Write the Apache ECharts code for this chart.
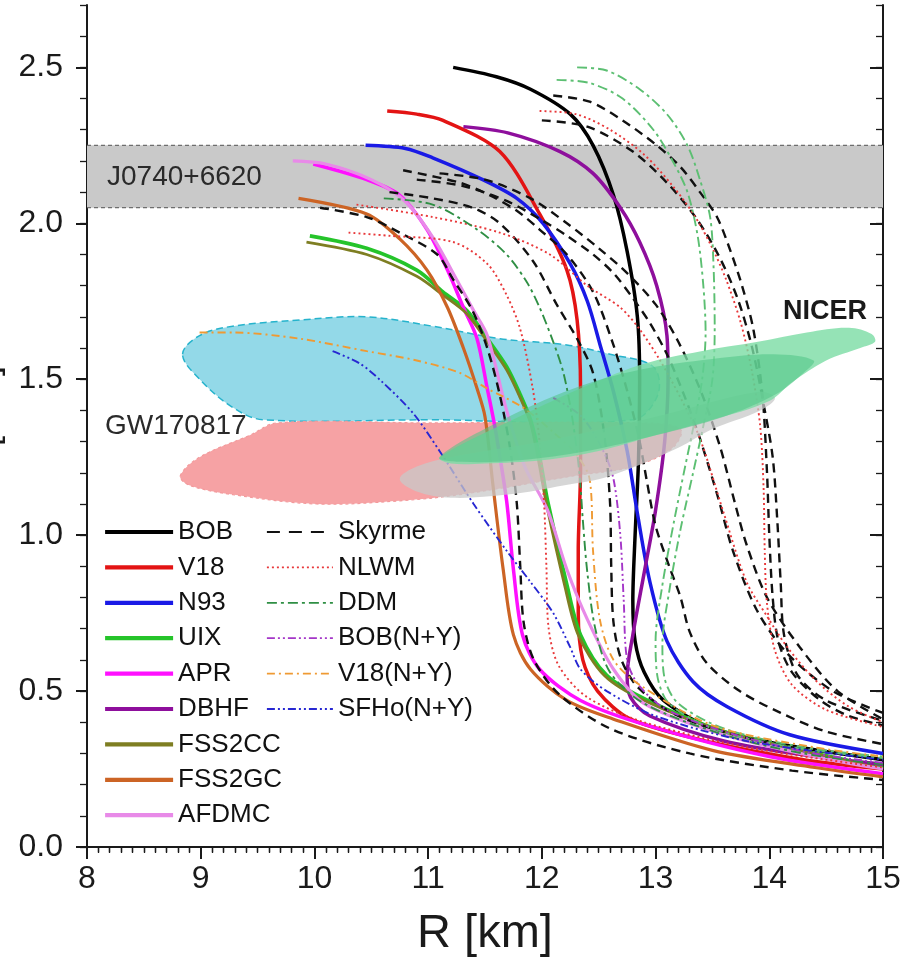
<!DOCTYPE html>
<html>
<head>
<meta charset="utf-8">
<title>Neutron star mass-radius relations</title>
<script src="https://cdn.jsdelivr.net/npm/echarts@6/dist/echarts.min.js"></script>
<style>
html,body{margin:0;padding:0;background:#fff;}
#chart{width:909px;height:965px;}
</style>
</head>
<body>
<div id="chart"></div>
<script>
// ---- axis ticks ----
const radiusTicks = [8, 9, 10, 11, 12, 13, 14, 15];
const massTicks = [0, 0.5, 1.0, 1.5, 2.0, 2.5];

// ---- observational constraints [R (km), M (Msun)] ----
const j0740Band = [2.05, 2.25];
const gwUpper = [[8.84,1.58],[8.99,1.64],[9.28,1.67],[9.87,1.69],[10.46,1.70],[11.04,1.67],[11.63,1.63],[12.22,1.61],[12.6,1.58],[12.98,1.54],[13.02,1.45],[12.8,1.37],[11.0,1.37],[9.55,1.37],[9.28,1.41],[8.99,1.50]];
const gwLower = [[8.82,1.19],[8.99,1.25],[9.43,1.32],[9.67,1.36],[11.0,1.36],[12.9,1.36],[13.22,1.34],[13.15,1.28],[12.8,1.22],[12.28,1.19],[11.28,1.13],[10.75,1.11],[10.02,1.10],[9.28,1.13],[8.9,1.16]];
const nicerGray = [[10.75,1.18],[10.9,1.14],[11.2,1.12],[11.7,1.13],[12.2,1.16],[12.6,1.19],[13.2,1.28],[13.5,1.34],[13.92,1.40],[14.05,1.44],[13.9,1.46],[13.0,1.38],[12.0,1.30],[11.2,1.25],[10.9,1.22]];
const nicerOuter = [[11.1,1.25],[11.8,1.38],[12.4,1.48],[12.9,1.55],[13.4,1.59],[13.9,1.62],[14.33,1.65],[14.7,1.665],[14.9,1.645],[14.93,1.62],[14.8,1.60],[14.5,1.56],[14.2,1.49],[14.0,1.43],[13.5,1.37],[13.0,1.32],[12.5,1.27],[12.0,1.24],[11.5,1.23],[11.2,1.23]];
const nicerInner = [[11.1,1.25],[11.6,1.36],[12.28,1.47],[12.86,1.53],[13.5,1.565],[14.04,1.58],[14.39,1.56],[14.3,1.52],[14.05,1.45],[13.6,1.38],[13.0,1.32],[12.4,1.27],[11.8,1.24],[11.3,1.235]];

// ---- nucleonic microscopic EoS ----
const bob = [[11.22,2.5],[11.6,2.47],[11.9,2.43],[12.25,2.35],[12.45,2.25],[12.63,2.09],[12.75,1.91],[12.84,1.7],[12.86,1.49],[12.85,1.24],[12.82,1.0],[12.8,0.79],[12.82,0.66],[12.9,0.56],[13.07,0.47],[13.5,0.38],[14.09,0.33],[15,0.28]];
const v18 = [[10.64,2.36],[10.9,2.35],[11.13,2.33],[11.63,2.23],[11.98,2.03],[12.22,1.85],[12.31,1.69],[12.34,1.47],[12.34,1.21],[12.32,0.95],[12.32,0.75],[12.36,0.6],[12.49,0.5],[12.78,0.41],[13.5,0.335],[14.3,0.28],[15,0.25]];
const n93 = [[10.45,2.25],[10.8,2.24],[11.04,2.21],[11.48,2.14],[11.78,2.08],[12.01,2.0],[12.25,1.87],[12.4,1.75],[12.52,1.6],[12.63,1.46],[12.75,1.27],[12.84,1.07],[12.95,0.85],[13.1,0.66],[13.33,0.53],[13.63,0.45],[14.18,0.36],[15,0.3]];
const uix = [[9.96,1.96],[10.46,1.92],[10.9,1.85],[11.13,1.78],[11.34,1.72],[11.52,1.63],[11.69,1.54],[11.81,1.45],[11.9,1.37],[11.98,1.25],[12.05,1.11],[12.22,0.84],[12.34,0.68],[12.57,0.55],[12.93,0.47],[13.6,0.37],[14.4,0.3],[15,0.255]];
const apr = [[9.99,2.19],[10.46,2.14],[10.75,2.09],[10.99,1.98],[11.17,1.85],[11.31,1.73],[11.43,1.63],[11.52,1.47],[11.57,1.38],[11.6,1.32],[11.69,1.11],[11.75,0.89],[11.83,0.68],[11.98,0.57],[12.34,0.47],[12.93,0.39],[14.0,0.29],[15,0.235]];
const dbhf = [[11.31,2.31],[11.7,2.29],[12.16,2.23],[12.45,2.16],[12.69,2.05],[12.86,1.94],[13.01,1.8],[13.1,1.64],[13.11,1.5],[13.08,1.3],[13.0,1.08],[12.9,0.88],[12.8,0.68],[12.75,0.55],[12.78,0.48],[12.95,0.42],[13.6,0.34],[14.4,0.29],[15,0.265]];
const fss2cc = [[9.93,1.94],[10.46,1.9],[10.9,1.83],[11.13,1.77],[11.34,1.71],[11.52,1.62],[11.69,1.53],[11.81,1.44],[11.9,1.36],[11.97,1.24],[12.04,1.1],[12.2,0.84],[12.32,0.68],[12.55,0.55],[12.9,0.47],[13.6,0.37],[14.4,0.3],[15,0.25]];
const fss2gc = [[9.86,2.08],[10.46,2.03],[10.75,1.95],[10.99,1.85],[11.17,1.73],[11.31,1.6],[11.43,1.47],[11.5,1.38],[11.57,1.16],[11.66,0.89],[11.75,0.68],[11.9,0.57],[12.22,0.47],[12.63,0.41],[13.5,0.31],[14.4,0.255],[15,0.225]];
const afdmc = [[9.81,2.2],[10.1,2.19],[10.5,2.14],[10.8,2.07],[11.05,1.95],[11.25,1.82],[11.4,1.72],[11.52,1.64],[11.69,1.4],[11.85,1.22],[12.05,1.08],[12.22,0.89],[12.4,0.73],[12.63,0.57],[12.9,0.46],[13.6,0.36],[14.4,0.29],[15,0.25]];

// ---- phenomenological families ----
const skyrme1 = [[10.05,2.05],[10.46,2.02],[10.75,1.97],[11.08,1.9],[11.22,1.82],[11.39,1.72],[11.52,1.6],[11.63,1.45],[11.72,1.28],[11.78,1.1],[11.81,0.9],[11.84,0.72],[11.93,0.6],[12.15,0.49],[12.6,0.38],[13.3,0.3],[14.2,0.245],[15,0.215]];
const skyrme2 = [[10.66,2.10],[11.04,2.08],[11.39,2.05],[11.63,2.0],[11.92,1.88],[12.13,1.74],[12.31,1.63],[12.45,1.52],[12.55,1.32],[12.6,1.1],[12.61,0.9],[12.63,0.72],[12.7,0.6],[12.85,0.51],[13.2,0.42],[13.8,0.35],[14.4,0.31],[15,0.28]];
const skyrme3 = [[10.78,2.17],[11.28,2.13],[11.54,2.09],[11.78,2.04],[11.98,1.98],[12.22,1.9],[12.45,1.78],[12.62,1.62],[12.76,1.45],[12.86,1.3],[12.92,1.18],[13.0,1.03],[13.12,0.9],[13.22,0.8],[13.3,0.69],[13.45,0.59],[13.74,0.5],[14.1,0.43],[14.5,0.37],[15,0.33]];
const skyrme4 = [[10.9,2.14],[11.3,2.12],[11.7,2.07],[12.0,2.01],[12.22,1.96],[12.45,1.9],[12.63,1.84],[12.8,1.76],[12.95,1.68],[13.1,1.58],[13.25,1.45],[13.39,1.31],[13.55,1.12],[13.68,0.95],[13.89,0.76],[14.16,0.62],[14.56,0.5],[15,0.43]];
const skyrme5 = [[11.1,2.16],[11.5,2.14],[11.9,2.08],[12.22,2.0],[12.5,1.92],[12.75,1.84],[13.0,1.74],[13.2,1.62],[13.4,1.46],[13.57,1.28],[13.7,1.1],[13.8,0.97],[13.98,0.8],[14.27,0.64],[14.6,0.5],[15,0.41]];
const skyrme6 = [[12.1,2.41],[12.42,2.39],[12.71,2.33],[13.01,2.25],[13.22,2.18],[13.39,2.1],[13.54,2.02],[13.66,1.91],[13.76,1.8],[13.86,1.66],[13.94,1.45],[13.98,1.2],[14.0,1.0],[14.03,0.8],[14.08,0.66],[14.2,0.56],[14.45,0.47],[14.7,0.42],[15,0.39]];
const skyrme7 = [[12.0,2.33],[12.4,2.31],[12.8,2.23],[13.1,2.13],[13.35,2.02],[13.55,1.9],[13.72,1.76],[13.85,1.6],[13.95,1.42],[14.03,1.25],[14.07,1.05],[14.1,0.85],[14.13,0.68],[14.25,0.55],[14.5,0.47],[15,0.405]];
const nlwm1 = [[11.98,2.36],[12.3,2.35],[12.6,2.3],[12.9,2.22],[13.15,2.12],[13.35,2.02],[13.5,1.92],[13.62,1.82],[13.75,1.68],[13.85,1.52],[13.92,1.35],[13.95,1.15],[13.96,0.95],[13.98,0.78],[14.05,0.63],[14.2,0.52],[14.5,0.44],[15,0.385]];
const nlwm2 = [[10.37,2.06],[11.04,2.02],[11.63,1.97],[12.07,1.9],[12.4,1.8],[12.69,1.73],[12.86,1.66],[13.04,1.56],[13.22,1.44],[13.39,1.31],[13.6,1.07],[13.8,0.85],[13.98,0.74],[14.16,0.64],[14.42,0.53],[14.7,0.45],[15,0.4]];
const nlwm3 = [[10.3,1.97],[10.66,1.96],[11.22,1.94],[11.52,1.87],[11.69,1.77],[11.81,1.66],[11.92,1.47],[11.98,1.3],[12.02,1.1],[12.04,0.9],[12.06,0.7],[12.15,0.58],[12.4,0.48],[12.9,0.4],[13.8,0.32],[15,0.255]];
const ddm1 = [[10.61,2.08],[11.04,2.06],[11.43,1.98],[11.69,1.9],[11.87,1.81],[11.98,1.73],[12.1,1.62],[12.19,1.52],[12.27,1.37],[12.33,1.2],[12.36,1.05],[12.4,0.88],[12.47,0.7],[12.6,0.56],[12.9,0.46],[13.6,0.36],[14.3,0.3],[15,0.265]];
const ddm2 = [[12.31,2.5],[12.57,2.49],[12.86,2.43],[13.1,2.35],[13.28,2.25],[13.39,2.14],[13.48,2.02],[13.51,1.86],[13.52,1.66],[13.5,1.5],[13.42,1.35],[13.33,1.2],[13.22,1.02],[13.12,0.82],[13.06,0.65],[13.08,0.54],[13.2,0.46],[13.6,0.38],[14.3,0.32],[15,0.29]];
const ddm3 = [[12.13,2.46],[12.42,2.45],[12.71,2.4],[12.98,2.3],[13.15,2.2],[13.28,2.1],[13.37,1.96],[13.42,1.8],[13.44,1.65],[13.41,1.5],[13.34,1.36],[13.26,1.22],[13.16,1.04],[13.06,0.84],[13.0,0.66],[13.02,0.54],[13.12,0.46],[13.5,0.38],[14.2,0.32],[15,0.285]];

// ---- hyperonic EoS ----
const bobNY = [[12.1,1.44],[12.35,1.38],[12.54,1.27],[12.63,1.18],[12.69,1.0],[12.72,0.79],[12.75,0.6],[12.85,0.52],[13.1,0.44],[13.7,0.36],[14.4,0.3],[15,0.27]];
const v18NY = [[8.99,1.65],[9.28,1.65],[9.87,1.63],[10.46,1.59],[10.9,1.56],[11.28,1.52],[11.52,1.47],[11.83,1.41],[12.1,1.33],[12.3,1.26],[12.42,1.18],[12.45,0.95],[12.51,0.73],[12.63,0.6],[12.86,0.52],[13.5,0.39],[14.39,0.32],[15,0.29]];
const sfhoNY = [[10.16,1.59],[10.4,1.55],[10.6,1.49],[10.87,1.39],[11.1,1.27],[11.4,1.1],[11.69,0.95],[11.9,0.85],[12.1,0.75],[12.25,0.64],[12.34,0.57],[12.57,0.5],[13.0,0.42],[13.8,0.34],[15,0.28]];

const solidNames = ['BOB','V18','N93','UIX','APR','DBHF','FSS2CC','FSS2GC','AFDMC'];
const otherNames = ['Skyrme','NLWM','DDM','BOB(N+Y)','V18(N+Y)','SFHo(N+Y)'];

const FONT = '"Liberation Sans", Arial, Helvetica, sans-serif';
const INK = '#1a1a1a';

function curve(name, pts, color, width, dash) {
  return {
    type: 'line', name: name, data: pts, xAxisIndex: 0, yAxisIndex: 0,
    smooth: 0.3, symbol: 'none', silent: true, z: 2,
    lineStyle: { color: color, width: width, type: dash || 'solid', cap: 'butt' },
    itemStyle: { color: color }
  };
}

function region(pts, style, z, smooth) {
  return {
    type: 'custom', coordinateSystem: 'cartesian2d', xAxisIndex: 0, yAxisIndex: 0,
    silent: true, z: z, data: [pts[0]],
    renderItem: function (params, api) {
      return { type: 'polygon', shape: { points: pts.map(function (p) { return api.coord(p); }), smooth: smooth }, style: style };
    }
  };
}

const bandSeries = {
  type: 'custom', coordinateSystem: 'cartesian2d', xAxisIndex: 0, yAxisIndex: 0,
  silent: true, z: 1, data: [[8, j0740Band[0]]],
  renderItem: function (params, api) {
    const a = api.coord([8, j0740Band[1]]);
    const b = api.coord([15, j0740Band[0]]);
    const edge = { stroke: '#6e6e6e', lineWidth: 1.3, lineDash: [4, 3] };
    return {
      type: 'group', children: [
        { type: 'rect', shape: { x: a[0], y: a[1], width: b[0] - a[0], height: b[1] - a[1] }, style: { fill: '#c9c9c9' } },
        { type: 'line', shape: { x1: a[0], y1: a[1], x2: b[0], y2: a[1] }, style: edge },
        { type: 'line', shape: { x1: a[0], y1: b[1], x2: b[0], y2: b[1] }, style: edge }
      ]
    };
  }
};

const DASH = [9, 6];
const DOT = [2, 3];
const DDM_DASH = [10, 4, 3, 4];
const DDOT = [8, 3, 2, 3, 2, 3];
const DDASH = [8, 4, 2, 4];

const series = [
  bandSeries,
  region(gwUpper, { fill: '#93d9e8', stroke: '#26b3cc', lineWidth: 1.5, lineDash: [7, 4] }, 1, 0.35),
  region(gwLower, { fill: '#f6a2a4', stroke: '#f39a9c', lineWidth: 1.2, lineDash: [3, 3] }, 1, 0.35),
  curve('BOB', bob, '#000000', 3.5),
  curve('V18', v18, '#e31414', 3.5),
  curve('N93', n93, '#1a1ae6', 3.5),
  curve('UIX', uix, '#25c42a', 3.8),
  curve('APR', apr, '#ff10ff', 3.5),
  curve('DBHF', dbhf, '#8e0f9c', 3.5),
  curve('FSS2CC', fss2cc, '#7e7e22', 2.8),
  curve('FSS2GC', fss2gc, '#cc6425', 3.2),
  curve('AFDMC', afdmc, '#e88ae8', 3.2),
  curve('Skyrme', skyrme1, '#111111', 2.4, DASH),
  curve('Skyrme', skyrme2, '#111111', 2.4, DASH),
  curve('Skyrme', skyrme3, '#111111', 2.4, DASH),
  curve('Skyrme', skyrme4, '#111111', 2.4, DASH),
  curve('Skyrme', skyrme5, '#111111', 2.4, DASH),
  curve('Skyrme', skyrme6, '#111111', 2.4, DASH),
  curve('Skyrme', skyrme7, '#111111', 2.4, DASH),
  curve('NLWM', nlwm1, '#e8383a', 1.9, DOT),
  curve('NLWM', nlwm2, '#e8383a', 1.9, DOT),
  curve('NLWM', nlwm3, '#e8383a', 1.9, DOT),
  curve('DDM', ddm1, '#2f8f44', 1.9, DDM_DASH),
  curve('DDM', ddm2, '#5cbf72', 1.9, DDM_DASH),
  curve('DDM', ddm3, '#5cbf72', 1.9, DDM_DASH),
  curve('BOB(N+Y)', bobNY, '#a436c8', 1.9, DDOT),
  curve('V18(N+Y)', v18NY, '#ef9a33', 1.9, DDASH),
  curve('SFHo(N+Y)', sfhoNY, '#2727d2', 1.9, DDOT),
  region(nicerGray, { fill: '#c8c8c8', opacity: 0.75 }, 3, 0.35),
  region(nicerOuter, { fill: '#7bdca4', opacity: 0.8 }, 3, 0.35),
  region(nicerInner, { fill: '#4fc585', opacity: 0.55 }, 3, 0.35)
];

const tickLine = { color: INK, width: 2 };
const minorLine = { color: INK, width: 1.3 };

function legendItems(names, width, dashOverride) {
  return names.map(function (n) {
    const item = { name: n, lineStyle: { width: width } };
    if (dashOverride && dashOverride[n]) item.lineStyle.type = dashOverride[n];
    return item;
  });
}

const option = {
  animation: false,
  backgroundColor: '#ffffff',
  grid: { left: 87, right: 26, top: 5, bottom: 118, containLabel: false, outerBoundsMode: 'none' },
  xAxis: [
    {
      type: 'value', position: 'bottom', min: 8, max: 15, interval: 1,
      name: 'R [km]', nameLocation: 'middle', nameGap: 64,
      nameTextStyle: { fontSize: 47, fontFamily: FONT, color: INK },
      axisLine: { show: true, lineStyle: { color: INK, width: 2 } },
      axisTick: { show: true, inside: false, length: 11, lineStyle: tickLine, customValues: radiusTicks },
      minorTick: { show: true, splitNumber: 10, length: 6, lineStyle: minorLine },
      axisLabel: { show: true, margin: 16, fontSize: 32, fontFamily: FONT, color: INK, customValues: radiusTicks },
      splitLine: { show: false }
    },
    {
      type: 'value', position: 'top', min: 8, max: 15, interval: 1,
      axisLine: { show: true, lineStyle: { color: INK, width: 2 } },
      axisTick: { show: true, inside: true, length: 12, lineStyle: tickLine },
      minorTick: { show: true, splitNumber: 10, length: 5, lineStyle: minorLine },
      axisLabel: { show: false }, splitLine: { show: false }
    }
  ],
  yAxis: [
    {
      type: 'value', position: 'left', min: 0, max: 2.7, interval: 0.5,
      name: 'M [M\u2299]', nameLocation: 'middle', nameGap: 82, nameRotate: 90,
      nameTextStyle: { fontSize: 36, fontFamily: FONT, color: INK },
      axisLine: { show: true, lineStyle: { color: INK, width: 2 } },
      axisTick: { show: true, inside: false, length: 11, lineStyle: tickLine, customValues: massTicks },
      axisLabel: { show: true, margin: 24, fontSize: 32, fontFamily: FONT, color: INK, customValues: massTicks,
        formatter: function (v) { return v.toFixed(1); } },
      splitLine: { show: false }
    },
    {
      type: 'value', position: 'left', min: 0, max: 2.7, interval: 0.1,
      axisLine: { show: false },
      axisTick: { show: true, inside: false, length: 7, lineStyle: minorLine },
      axisLabel: { show: false }, splitLine: { show: false }
    },
    {
      type: 'value', position: 'right', min: 0, max: 2.7, interval: 0.5,
      axisLine: { show: true, lineStyle: { color: INK, width: 2 } },
      axisTick: { show: true, inside: true, length: 13, lineStyle: tickLine, customValues: massTicks },
      axisLabel: { show: false }, splitLine: { show: false }
    },
    {
      type: 'value', position: 'right', min: 0, max: 2.7, interval: 0.1,
      axisLine: { show: false },
      axisTick: { show: true, inside: true, length: 7, lineStyle: minorLine },
      axisLabel: { show: false }, splitLine: { show: false }
    }
  ],
  legend: [
    {
      data: legendItems(solidNames, 4.2), orient: 'vertical', left: 103, top: 517, padding: 0,
      itemWidth: 68, itemHeight: 12, itemGap: 5.4, selectedMode: false,
      itemStyle: { opacity: 0 },
      textStyle: { fontSize: 26, fontFamily: FONT, color: '#111', lineHeight: 30 }
    },
    {
      data: legendItems(otherNames, 1.8, { 'Skyrme': [13, 9] }), orient: 'vertical', left: 266, top: 517, padding: 0,
      itemWidth: 66, itemHeight: 12, itemGap: 5.4, selectedMode: false,
      itemStyle: { opacity: 0 },
      textStyle: { fontSize: 26, fontFamily: FONT, color: '#111', lineHeight: 30 }
    }
  ],
  graphic: [
    { type: 'text', left: 107, top: 163, z: 10, silent: true,
      style: { text: 'J0740+6620', font: '28px ' + FONT, fill: '#2a2a2a' } },
    { type: 'text', left: 105, top: 412, z: 10, silent: true,
      style: { text: 'GW170817', font: '28px ' + FONT, fill: '#2a2a2a' } },
    { type: 'text', left: 783, top: 298, z: 10, silent: true,
      style: { text: 'NICER', font: 'bold 27px ' + FONT, fill: '#1a1a1a' } }
  ],
  series: series
};

const chart = echarts.init(document.getElementById('chart'), null, { renderer: 'canvas' });
chart.setOption(option);
</script>
</body>
</html>
